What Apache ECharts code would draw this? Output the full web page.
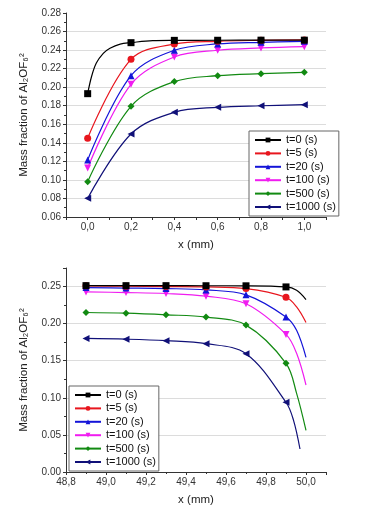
<!DOCTYPE html>
<html>
<head>
<meta charset="utf-8">
<script src="https://cdn.jsdelivr.net/npm/echarts@6/dist/echarts.min.js"></script>
<style>
  html, body { margin: 0; padding: 0; background: #fff; }
  #chart { width: 381px; height: 522px; }
</style>
</head>
<body>
<div id="chart"></div>
<script>
const seriesNames = ['t=0 (s)', 't=5 (s)', 't=20 (s)', 't=100 (s)', 't=500 (s)', 't=1000 (s)'];

// top panel: x = 0..1 mm, markers at these x
const topMarkX = [0, 0.2, 0.4, 0.6, 0.8, 1.0];
const topT0 = [[0, 0.193], [0.018, 0.2115], [0.04, 0.226], [0.072, 0.2365], [0.103, 0.242], [0.15, 0.2465], [0.2, 0.248], [0.3, 0.2502], [0.4, 0.2505], [0.6, 0.2506], [0.8, 0.2507], [1.0, 0.2507]];
const topT5 = [[0, 0.145], [0.2, 0.230], [0.4, 0.2465], [0.6, 0.2495], [0.8, 0.2505], [1.0, 0.251]];
const topT20 = [[0, 0.1215], [0.2, 0.2124], [0.4, 0.2398], [0.6, 0.2466], [0.8, 0.2484], [1.0, 0.2495]];
const topT100 = [[0, 0.1128], [0.2, 0.2031], [0.4, 0.2326], [0.6, 0.2398], [0.8, 0.2423], [1.0, 0.2437]];
const topT500 = [[0, 0.0981], [0.2, 0.1794], [0.4, 0.206], [0.6, 0.2124], [0.8, 0.2146], [1.0, 0.216]];
const topT1000 = [[0, 0.0801], [0.2, 0.1495], [0.4, 0.1729], [0.6, 0.1783], [0.8, 0.180], [1.0, 0.1811]];

// bottom panel: x = 48.8..50 mm
const botMarkX = [48.9, 49.1, 49.3, 49.5, 49.7, 49.9];
const botT0 = [[48.9, 0.2512], [49.1, 0.2512], [49.3, 0.2512], [49.5, 0.2511], [49.7, 0.251], [49.9, 0.2495], [49.953, 0.245], [50.0, 0.2325]];
const botT5 = [[48.9, 0.251], [49.1, 0.2505], [49.3, 0.25], [49.5, 0.2495], [49.7, 0.2473], [49.9, 0.2355], [49.953, 0.2226], [50.0, 0.2016]];
const botT20 = [[48.9, 0.2486], [49.1, 0.248], [49.3, 0.2473], [49.5, 0.2455], [49.7, 0.2388], [49.9, 0.209], [49.953, 0.191], [50.0, 0.1546]];
const botT100 = [[48.9, 0.2428], [49.1, 0.2419], [49.3, 0.2406], [49.5, 0.237], [49.7, 0.2267], [49.9, 0.1855], [49.953, 0.16], [50.0, 0.1173]];
const botT500 = [[48.9, 0.215], [49.1, 0.2141], [49.3, 0.2119], [49.5, 0.2088], [49.7, 0.198], [49.9, 0.1465], [49.953, 0.106], [50.0, 0.056]];
const botT1000 = [[48.9, 0.180], [49.1, 0.179], [49.3, 0.177], [49.5, 0.173], [49.7, 0.1595], [49.9, 0.094], [49.937, 0.0703], [49.97, 0.031]];

const colors = ['#000000', '#e8161e', '#1414d8', '#f01cf0', '#128a12', '#101078'];
const symbols = [
  'rect',
  'circle',
  'path://M5,0 L10,9 L0,9 Z',
  'path://M0,0 L10,0 L5,9 Z',
  'diamond',
  'path://M0,5 L9,0 L9,10 Z'
];

const font = 'Liberation Sans, Arial, sans-serif';

function buildData(points, markX) {
  return points.map(([x, y]) => {
    const isMark = markX.some((m) => Math.abs(m - x) < 1e-6);
    return isMark ? { value: [x, y] } : { value: [x, y], symbol: 'none' };
  });
}

function makeSeries(list, markX, idx) {
  return list.map((pts, i) => ({
    name: seriesNames[i],
    type: 'line',
    xAxisIndex: idx,
    yAxisIndex: idx,
    data: buildData(pts, markX),
    smooth: 0.35,
    symbol: symbols[i],
    symbolSize: 7,
    showAllSymbol: true,
    lineStyle: { color: colors[i], width: 1.2 },
    itemStyle: { color: colors[i] },
    emphasis: { disabled: true },
    z: 10 - i
  }));
}

function legendAt(pos) {
  return Object.assign({
    orient: 'vertical',
    data: seriesNames,
    itemWidth: 26,
    itemHeight: 6,
    itemGap: 1.4,
    padding: [3, 3, 3, 5],
    backgroundColor: '#fff',
    borderColor: '#666',
    borderWidth: 1,
    borderRadius: 0,
    selectedMode: false,
    z: 20,
    textStyle: { fontFamily: font, fontSize: 11, lineHeight: 12, color: '#111' }
  }, pos);
}

const axisCommon = {
  axisLine: { show: true, onZero: false, lineStyle: { color: '#333', width: 1 } },
  axisTick: { show: true, inside: false, length: 3, lineStyle: { color: '#333' } },
  axisLabel: { fontFamily: font, fontSize: 10, color: '#333', margin: 5 },
  nameTextStyle: { fontFamily: font, fontSize: 11.5, color: '#222' }
};

const yName = 'Mass fraction of Al\u2082OF\u2086\u00B2';

const option = {
  backgroundColor: '#fff',
  animation: false,
  grid: [
    { left: 66, top: 13, width: 260, height: 204 },
    { left: 66, top: 268, width: 260, height: 204 }
  ],
  legend: [
    legendAt({ left: 249, top: 131 }),
    legendAt({ left: 69, top: 386 })
  ],
  xAxis: [
    Object.assign({}, axisCommon, {
      type: 'value', gridIndex: 0, min: -0.1, max: 1.1, interval: 0.1,
      name: 'x (mm)', nameLocation: 'middle', nameGap: 22,
      splitLine: { show: false },
      axisLabel: Object.assign({}, axisCommon.axisLabel, {
        formatter: (v) => (Math.round(v * 10) % 2 === 0 ? v.toFixed(1).replace('.', ',') : '')
      })
    }),
    Object.assign({}, axisCommon, {
      type: 'value', gridIndex: 1, min: 48.8, max: 50.1, interval: 0.2,
      name: 'x (mm)', nameLocation: 'middle', nameGap: 22,
      splitLine: { show: false },
      minorTick: { show: true, splitNumber: 2, length: 2, lineStyle: { color: '#333' } },
      axisLabel: Object.assign({}, axisCommon.axisLabel, {
        showMaxLabel: false,
        formatter: (v) => v.toFixed(1).replace('.', ',')
      })
    })
  ],
  yAxis: [
    Object.assign({}, axisCommon, {
      type: 'value', gridIndex: 0, min: 0.06, max: 0.28, interval: 0.02,
      name: yName, nameLocation: 'middle', nameGap: 36,
      splitLine: { show: true, showMinLine: false, showMaxLine: false, lineStyle: { color: '#dcdcdc', width: 1 } },
      minorTick: { show: true, splitNumber: 2, length: 2, lineStyle: { color: '#333' } },
      axisLabel: Object.assign({}, axisCommon.axisLabel, { formatter: (v) => v.toFixed(2) })
    }),
    Object.assign({}, axisCommon, {
      type: 'value', gridIndex: 1, min: 0, max: 0.275, interval: 0.05,
      name: yName, nameLocation: 'middle', nameGap: 36,
      splitLine: { show: true, showMinLine: false, showMaxLine: false, lineStyle: { color: '#dcdcdc', width: 1 } },
      minorTick: { show: true, splitNumber: 2, length: 2, lineStyle: { color: '#333' } },
      axisLabel: Object.assign({}, axisCommon.axisLabel, {
        showMaxLabel: false,
        formatter: (v) => v.toFixed(2)
      })
    })
  ],
  series: [
    ...makeSeries([topT0, topT5, topT20, topT100, topT500, topT1000], topMarkX, 0),
    ...makeSeries([botT0, botT5, botT20, botT100, botT500, botT1000], botMarkX, 1)
  ]
};

const chart = echarts.init(document.getElementById('chart'), null, { renderer: 'canvas' });
chart.setOption(option);
</script>
</body>
</html>
